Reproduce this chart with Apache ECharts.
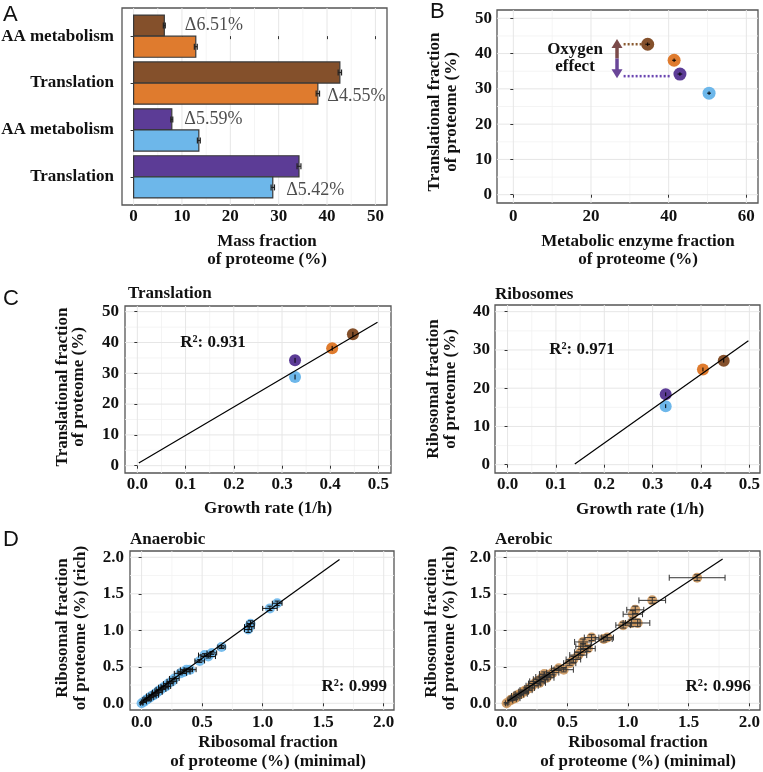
<!DOCTYPE html>
<html>
<head>
<meta charset="UTF-8">
<script src="https://cdn.jsdelivr.net/npm/echarts@6/dist/echarts.min.js"></script>
<style>
    html, body { margin: 0; padding: 0; background: #fff; }
    #main { width: 763px; height: 772px; }
</style>
</head>
<body>
<div id="main"></div>
<script>
// colours of the four conditions (brown, orange, purple, blue)
var condColors = ['#84502b', '#df7b2e', '#5c3c96', '#6db7ea'];

// ---- A: mass fraction of proteome
var aCats = ['AA metabolism', 'Translation', 'AA metabolism', 'Translation'];
var aDark = [6.35, 42.65, 7.9, 34.2];
var aDarkErr = [0.2, 0.35, 0.2, 0.4];
var aLight = [12.86, 38.1, 13.49, 28.78];
var aLightErr = [0.3, 0.35, 0.3, 0.35];
var aDelta = ['Δ6.51%', 'Δ4.55%', 'Δ5.59%', 'Δ5.42%'];
var aDeltaOn = ['dark', 'light', 'dark', 'light'];
var aTicks = [0, 10, 20, 30, 40, 50];
var aMinor = [5, 15, 25, 35, 45];

// ---- B: translational vs metabolic enzyme fraction
var bMetab = [34.6, 41.4, 42.9, 50.4];
var bTransl = [42.65, 38.1, 34.2, 28.78];
var bMetabErr = [0.6, 0.5, 0.6, 0.5];
var bTranslErr = [0.5, 0.5, 0.5, 0.5];
var bTicksX = [0, 20, 40, 60];
var bMinorX = [10, 30, 50];
var bTicksY = [0, 10, 20, 30, 40, 50];
var bMinorY = [5, 15, 25, 35, 45];
// oxygen effect arrow: x, bottom tip, top tip, split point
var oxArrow = [26.7, 33.0, 44.1, 38.6];
var oxDotBrown = [[28.4, 42.65], [33.3, 42.65]];
var oxDotPurple = [[28.4, 33.6], [40.4, 33.6]];

// ---- C: vs growth rate
var growth = [0.447, 0.404, 0.327, 0.327];
var transl = [42.65, 38.1, 34.2, 28.78];
var translErr = [0.8, 0.8, 0.8, 0.8];
var ribo = [27.2, 24.9, 18.4, 15.3];
var riboErr = [0.5, 0.5, 0.5, 0.5];
var translFit = [[0.003, 0.9], [0.498, 46.6]];
var riboFit = [[0.139, 0.2], [0.498, 32.4]];
var cTicksX = [0, 0.1, 0.2, 0.3, 0.4, 0.5];
var cMinorX = [0.05, 0.15, 0.25, 0.35, 0.45];
var cTicksY1 = [0, 10, 20, 30, 40, 50];
var cMinorY1 = [5, 15, 25, 35, 45];
var cTicksY2 = [0, 10, 20, 30, 40];
var cMinorY2 = [5, 15, 25, 35];

// ---- D: ribosomal proteins, minimal vs rich
var anaMin  = [0.00, 0.02, 0.04, 0.05, 0.07, 0.08, 0.10, 0.11, 0.13, 0.14, 0.16, 0.18, 0.20, 0.22, 0.25, 0.27, 0.32, 0.35, 0.37, 0.40, 0.48, 0.52, 0.55, 0.58, 0.66, 0.88, 0.89, 0.90, 1.06, 1.12];
var anaRich = [0.00, 0.02, 0.05, 0.06, 0.08, 0.10, 0.11, 0.13, 0.15, 0.17, 0.19, 0.22, 0.23, 0.27, 0.30, 0.34, 0.41, 0.43, 0.46, 0.46, 0.58, 0.66, 0.64, 0.69, 0.77, 1.01, 1.05, 1.09, 1.30, 1.37];
var anaMinErr  = [0.01, 0.02, 0.03, 0.03, 0.03, 0.04, 0.04, 0.03, 0.04, 0.03, 0.04, 0.04, 0.04, 0.04, 0.04, 0.04, 0.05, 0.05, 0.05, 0.05, 0.04, 0.05, 0.06, 0.04, 0.03, 0.03, 0.04, 0.03, 0.06, 0.04];
var anaRichErr = [0.01, 0.01, 0.02, 0.02, 0.02, 0.02, 0.02, 0.02, 0.02, 0.02, 0.02, 0.02, 0.02, 0.02, 0.02, 0.02, 0.02, 0.02, 0.02, 0.02, 0.02, 0.02, 0.02, 0.02, 0.02, 0.04, 0.04, 0.04, 0.03, 0.03];
var aerMin  = [0.00, 0.03, 0.05, 0.07, 0.08, 0.10, 0.12, 0.14, 0.16, 0.19, 0.21, 0.23, 0.25, 0.27, 0.28, 0.30, 0.31, 0.33, 0.35, 0.38, 0.43, 0.47, 0.52, 0.55, 0.59, 0.61, 0.63, 0.63, 0.67, 0.70, 0.80, 0.83, 0.96, 1.04, 1.06, 1.08, 1.03, 1.20, 1.57];
var aerRich = [0.00, 0.04, 0.06, 0.07, 0.10, 0.12, 0.13, 0.16, 0.18, 0.21, 0.24, 0.27, 0.30, 0.28, 0.33, 0.36, 0.40, 0.35, 0.39, 0.42, 0.48, 0.46, 0.55, 0.60, 0.66, 0.70, 0.78, 0.84, 0.75, 0.90, 0.88, 0.90, 1.07, 1.22, 1.28, 1.10, 1.10, 1.41, 1.72];
var aerMinErr  = [0.01, 0.02, 0.03, 0.04, 0.04, 0.04, 0.05, 0.04, 0.05, 0.04, 0.05, 0.05, 0.06, 0.05, 0.06, 0.06, 0.04, 0.06, 0.04, 0.05, 0.06, 0.08, 0.05, 0.06, 0.07, 0.05, 0.06, 0.07, 0.06, 0.06, 0.07, 0.05, 0.06, 0.08, 0.07, 0.10, 0.07, 0.11, 0.23];
var aerRichErr = [0.01, 0.01, 0.02, 0.02, 0.02, 0.02, 0.02, 0.02, 0.03, 0.03, 0.03, 0.03, 0.03, 0.03, 0.03, 0.03, 0.03, 0.03, 0.03, 0.03, 0.03, 0.03, 0.03, 0.04, 0.04, 0.04, 0.04, 0.04, 0.04, 0.04, 0.04, 0.04, 0.04, 0.05, 0.05, 0.05, 0.05, 0.04, 0.04];
var anaFit = [[0.01, 0.03], [1.635, 1.97]];
var aerFit = [[0.01, 0.03], [1.78, 1.977]];
var dTicks = [0, 0.5, 1, 1.5, 2];
var dMinor = [0.25, 0.75, 1.25, 1.75];

var SERIF = '"Liberation Serif", "DejaVu Serif", serif';
var INK = '#111';

var gridRects = [
    {left: 122, top: 8, width: 265, height: 197},
    {left: 497, top: 10, width: 261, height: 193},
    {left: 125, top: 306, width: 266, height: 167},
    {left: 495, top: 305, width: 265, height: 168},
    {left: 130, top: 551, width: 264, height: 159},
    {left: 495, top: 551, width: 265, height: 159}
];

function fixed1(v) { return v.toFixed(1); }
function plain(v) { return String(v); }

function valAxis(gi, min, max, ticks, fmt, margin, extra) {
    var ax = {
        type: 'value', gridIndex: gi, min: min, max: max,
        axisLine: {show: false},
        axisTick: {show: true, customValues: ticks, length: 3, lineStyle: {color: '#333', width: 1}},
        axisLabel: {customValues: ticks, formatter: fmt, fontFamily: SERIF, fontWeight: 'bold',
            fontSize: 17, color: INK, margin: margin},
        splitLine: {show: false}
    };
    for (var k in extra) ax[k] = extra[k];
    return ax;
}

// light background grid drawn through the axes' scales
function gridSeries(gi, xMaj, xMin, yMaj, yMin) {
    return {
        type: 'custom', xAxisIndex: gi, yAxisIndex: gi, silent: true, z: 0,
        data: [[xMaj[0], yMaj.length ? yMaj[0] : 0]],
        renderItem: function (params, api) {
            var cs = params.coordSys, ch = [];
            function vl(v, c, w) {
                var x = api.coord([v, yMaj.length ? yMaj[0] : 0])[0];
                ch.push({type: 'line', shape: {x1: x, y1: cs.y, x2: x, y2: cs.y + cs.height}, style: {stroke: c, lineWidth: w}});
            }
            function hl(v, c, w) {
                var y = api.coord([xMaj[0], v])[1];
                ch.push({type: 'line', shape: {x1: cs.x, y1: y, x2: cs.x + cs.width, y2: y}, style: {stroke: c, lineWidth: w}});
            }
            xMin.forEach(function (v) { vl(v, '#f1f1f1', 0.8); });
            yMin.forEach(function (v) { hl(v, '#f1f1f1', 0.8); });
            xMaj.forEach(function (v) { vl(v, '#e6e6e6', 1); });
            yMaj.forEach(function (v) { hl(v, '#e6e6e6', 1); });
            return {type: 'group', children: ch};
        }
    };
}

function errSeries(gi, xs, ys, xe, ye, color, cap, lw, z) {
    return {
        type: 'custom', xAxisIndex: gi, yAxisIndex: gi, silent: true, z: z,
        encode: {x: 0, y: 1},
        data: xs.map(function (x, i) { return [x, ys[i], xe[i], ye[i]]; }),
        renderItem: function (params, api) {
            var x = api.value(0), y = api.value(1), ex = api.value(2), ey = api.value(3);
            var ch = [];
            function seg(x1, y1, x2, y2) {
                ch.push({type: 'line', shape: {x1: x1, y1: y1, x2: x2, y2: y2}, style: {stroke: color, lineWidth: lw}});
            }
            if (ex > 0) {
                var a = api.coord([x - ex, y]), b = api.coord([x + ex, y]);
                seg(a[0], a[1], b[0], b[1]);
                if (cap) { seg(a[0], a[1] - cap, a[0], a[1] + cap); seg(b[0], b[1] - cap, b[0], b[1] + cap); }
            }
            if (ey > 0) {
                var c = api.coord([x, y - ey]), d = api.coord([x, y + ey]);
                seg(c[0], c[1], d[0], d[1]);
                if (cap) { seg(c[0] - cap, c[1], c[0] + cap, c[1]); seg(d[0] - cap, d[1], d[0] + cap, d[1]); }
            }
            return {type: 'group', children: ch};
        }
    };
}

// panel A bars: dark sits above the category line, light below
var aColorIdx = {dark: [0, 0, 2, 2], light: [1, 1, 3, 3]};
function barSeries(side, vals, errs) {
    return {
        type: 'custom', xAxisIndex: 0, yAxisIndex: 0, z: 3,
        encode: {x: 0, y: 1},
        data: vals.map(function (v, i) { return [v, i, errs[i]]; }),
        renderItem: function (params, api) {
            var v = api.value(0), i = api.value(1), e = api.value(2);
            var y0 = side === 'dark' ? i - 0.45 : i;
            var p0 = api.coord([0, y0]), p1 = api.coord([v, y0 + 0.45]);
            var top = Math.min(p0[1], p1[1]), h = Math.abs(p1[1] - p0[1]);
            var ym = api.coord([v, y0 + 0.225])[1];
            var a = api.coord([v - e, 0])[0], b = api.coord([v + e, 0])[0];
            return {type: 'group', children: [
                {type: 'rect', shape: {x: p0[0], y: top, width: p1[0] - p0[0], height: h},
                    style: {fill: condColors[aColorIdx[side][i]], stroke: '#383838', lineWidth: 1.2}},
                {type: 'line', shape: {x1: a, y1: ym, x2: b, y2: ym}, style: {stroke: '#222', lineWidth: 1.2}},
                {type: 'line', shape: {x1: a, y1: ym - 3, x2: a, y2: ym + 3}, style: {stroke: '#222', lineWidth: 1.2}},
                {type: 'line', shape: {x1: b, y1: ym - 3, x2: b, y2: ym + 3}, style: {stroke: '#222', lineWidth: 1.2}}
            ]};
        }
    };
}

// delta annotations, anchored at the end of the bar they belong to
var aLabelGap = [20, 9, 12, 13];
var aLabelDy = [0, 3, 0, 3];
function deltaSeries() {
    return {
        type: 'scatter', xAxisIndex: 0, yAxisIndex: 0, silent: true, z: 5,
        symbol: 'circle', symbolSize: 1, itemStyle: {color: 'rgba(0,0,0,0)'},
        data: aDelta.map(function (t, i) {
            var dark = aDeltaOn[i] === 'dark';
            return {
                value: [dark ? aDark[i] : aLight[i], dark ? i - 0.225 : i + 0.225],
                label: {distance: aLabelGap[i], offset: [0, aLabelDy[i]]}
            };
        }),
        label: {
            show: true, position: 'right', fontFamily: SERIF, fontSize: 18, color: '#222',
            formatter: function (p) { return aDelta[p.dataIndex]; }
        }
    };
}

// oxygen effect double arrow in B
function arrowSeries() {
    return {
        type: 'custom', xAxisIndex: 1, yAxisIndex: 1, silent: true, z: 2,
        encode: {x: 0, y: 1},
        data: [oxArrow],
        renderItem: function (params, api) {
            var x = api.value(0);
            var bot = api.coord([x, api.value(1)]), top = api.coord([x, api.value(2)]), mid = api.coord([x, api.value(3)]);
            var hw = 5.5, hh = 9;
            var up = '#7b4b4a', down = '#6a4698';
            return {type: 'group', children: [
                {type: 'line', shape: {x1: mid[0], y1: mid[1], x2: top[0], y2: top[1] + hh - 1}, style: {stroke: up, lineWidth: 3.5}},
                {type: 'polygon', shape: {points: [[top[0], top[1]], [top[0] - hw, top[1] + hh], [top[0] + hw, top[1] + hh]]}, style: {fill: up}},
                {type: 'line', shape: {x1: mid[0], y1: mid[1], x2: bot[0], y2: bot[1] - hh + 1}, style: {stroke: down, lineWidth: 3.5}},
                {type: 'polygon', shape: {points: [[bot[0], bot[1]], [bot[0] - hw, bot[1] - hh], [bot[0] + hw, bot[1] - hh]]}, style: {fill: down}}
            ]};
        }
    };
}

function dotLine(coords, color) {
    return {
        type: 'line', xAxisIndex: 1, yAxisIndex: 1, data: coords, showSymbol: false, silent: true, z: 2,
        lineStyle: {color: color, width: 2.5, type: [2, 2]}
    };
}

function fitLine(gi, coords) {
    return {
        type: 'line', xAxisIndex: gi, yAxisIndex: gi, data: coords, showSymbol: false, silent: true, z: 6,
        lineStyle: {color: '#000', width: 1.2}
    };
}

function pts(gi, xs, ys, colorFn, size, opacity) {
    return {
        type: 'scatter', xAxisIndex: gi, yAxisIndex: gi, silent: true, z: 3,
        data: xs.map(function (x, i) { return [x, ys[i]]; }),
        symbolSize: size,
        itemStyle: {color: colorFn, opacity: opacity}
    };
}
function byCond(p) { return condColors[p.dataIndex]; }

function txt(text, x, y, o) {
    o = o || {};
    return {
        type: 'text', x: x, y: y, rotation: o.rot || 0, silent: true, z: 100,
        style: {
            text: text, fontFamily: o.family || SERIF, fontSize: o.size || 17,
            fontWeight: o.weight || 'bold', fill: INK, align: o.align || 'center',
            verticalAlign: 'middle', lineHeight: o.lh || 17
        }
    };
}
var ROT = Math.PI / 2;
var SANS = '"Liberation Sans", Arial, sans-serif';

var chart = echarts.init(document.getElementById('main'), null, {renderer: 'canvas'});
chart.setOption({
    animation: false,
    backgroundColor: '#fff',
    grid: gridRects.map(function (r) {
        return {left: r.left, top: r.top, width: r.width, height: r.height, show: true,
            borderColor: '#555', borderWidth: 1.3, backgroundColor: '#fff', outerBoundsMode: 'none'};
    }),
    xAxis: [
        valAxis(0, -2.4, 52.4, aTicks, plain, 3, {}),
        valAxis(1, -4.2, 63, bTicksX, plain, 5, {}),
        valAxis(2, -0.0256, 0.526, cTicksX, fixed1, 3, {}),
        valAxis(3, -0.026, 0.522, cTicksX, fixed1, 3, {}),
        valAxis(4, -0.096, 2.085, dTicks, fixed1, 4, {}),
        valAxis(5, -0.096, 2.088, dTicks, fixed1, 4, {})
    ],
    yAxis: [
        valAxis(0, -0.6, 3.6, [0, 1, 2, 3], function (v) { return aCats[v]; }, 8, {inverse: true}),
        valAxis(1, -2.35, 52.35, bTicksY, plain, 5, {}),
        valAxis(2, -2.37, 51.85, cTicksY1, plain, 6, {}),
        valAxis(3, -2.17, 41.75, cTicksY2, plain, 5, {}),
        valAxis(4, -0.092, 2.086, dTicks, fixed1, 6, {}),
        valAxis(5, -0.092, 2.086, dTicks, fixed1, 4, {})
    ],
    series: [
        // A
        gridSeries(0, aTicks, aMinor, [], []),
        barSeries('dark', aDark, aDarkErr),
        barSeries('light', aLight, aLightErr),
        deltaSeries(),
        // B
        gridSeries(1, bTicksX, bMinorX, bTicksY, bMinorY),
        dotLine(oxDotBrown, '#8a5a30'),
        dotLine(oxDotPurple, '#6a44b0'),
        arrowSeries(),
        pts(1, bMetab, bTransl, byCond, 13, 1),
        errSeries(1, bMetab, bTransl, bMetabErr, bTranslErr, '#000', 0, 1, 4),
        // C
        gridSeries(2, cTicksX, cMinorX, cTicksY1, cMinorY1),
        pts(2, growth, transl, byCond, 12, 1),
        errSeries(2, growth, transl, [0, 0, 0, 0], translErr, '#000', 0, 1, 4),
        fitLine(2, translFit),
        gridSeries(3, cTicksX, cMinorX, cTicksY2, cMinorY2),
        pts(3, growth, ribo, byCond, 12, 1),
        errSeries(3, growth, ribo, [0, 0, 0, 0], riboErr, '#000', 0, 1, 4),
        fitLine(3, riboFit),
        // D
        gridSeries(4, dTicks, dMinor, dTicks, dMinor),
        pts(4, anaMin, anaRich, '#63b3ea', 10, 0.85),
        errSeries(4, anaMin, anaRich, anaMinErr, anaRichErr, '#111', 2.5, 1, 4),
        fitLine(4, anaFit),
        gridSeries(5, dTicks, dMinor, dTicks, dMinor),
        pts(5, aerMin, aerRich, '#c98f52', 10, 0.85),
        errSeries(5, aerMin, aerRich, aerMinErr, aerRichErr, '#333', 3, 1, 4),
        fitLine(5, aerFit)
    ],
    graphic: [
        txt('A', 3, 15, {family: SANS, weight: 'normal', size: 22, align: 'left'}),
        txt('B', 430, 12, {family: SANS, weight: 'normal', size: 22, align: 'left'}),
        txt('C', 3, 299, {family: SANS, weight: 'normal', size: 22, align: 'left'}),
        txt('D', 3, 540, {family: SANS, weight: 'normal', size: 22, align: 'left'}),

        txt('Mass fraction\nof proteome (%)', 267, 251, {lh: 18}),

        txt('Oxygen\neffect', 575, 58, {lh: 17}),
        txt('Metabolic enzyme fraction\nof proteome (%)', 638, 251, {lh: 18}),
        txt('Translational fraction\nof proteome (%)', 443, 112, {rot: ROT, lh: 16.5}),

        txt('Translation', 128, 294, {align: 'left'}),
        txt('R²: 0.931', 213, 343),
        txt('Growth rate (1/h)', 268, 509),
        txt('Translational fraction\nof proteome (%)', 71, 387, {rot: ROT, lh: 16}),

        txt('Ribosomes', 495, 295, {align: 'left'}),
        txt('R²: 0.971', 582, 350),
        txt('Growth rate (1/h)', 640, 510),
        txt('Ribosomal fraction\nof proteome (%)', 442, 389, {rot: ROT, lh: 16.5}),

        txt('Anaerobic', 130, 540, {align: 'left'}),
        txt('R²: 0.999', 387, 687, {align: 'right'}),
        txt('Ribosomal fraction\nof proteome (%) (minimal)', 268, 752, {lh: 18.4}),
        txt('Ribosomal fraction\nof proteome (%) (rich)', 72, 628, {rot: ROT, lh: 18}),

        txt('Aerobic', 495, 540, {align: 'left'}),
        txt('R²: 0.996', 751, 687, {align: 'right'}),
        txt('Ribosomal fraction\nof proteome (%) (minimal)', 638, 752, {lh: 18.4}),
        txt('Ribosomal fraction\nof proteome (%) (rich)', 441, 628, {rot: ROT, lh: 18})
    ]
});
</script>
</body>
</html>
